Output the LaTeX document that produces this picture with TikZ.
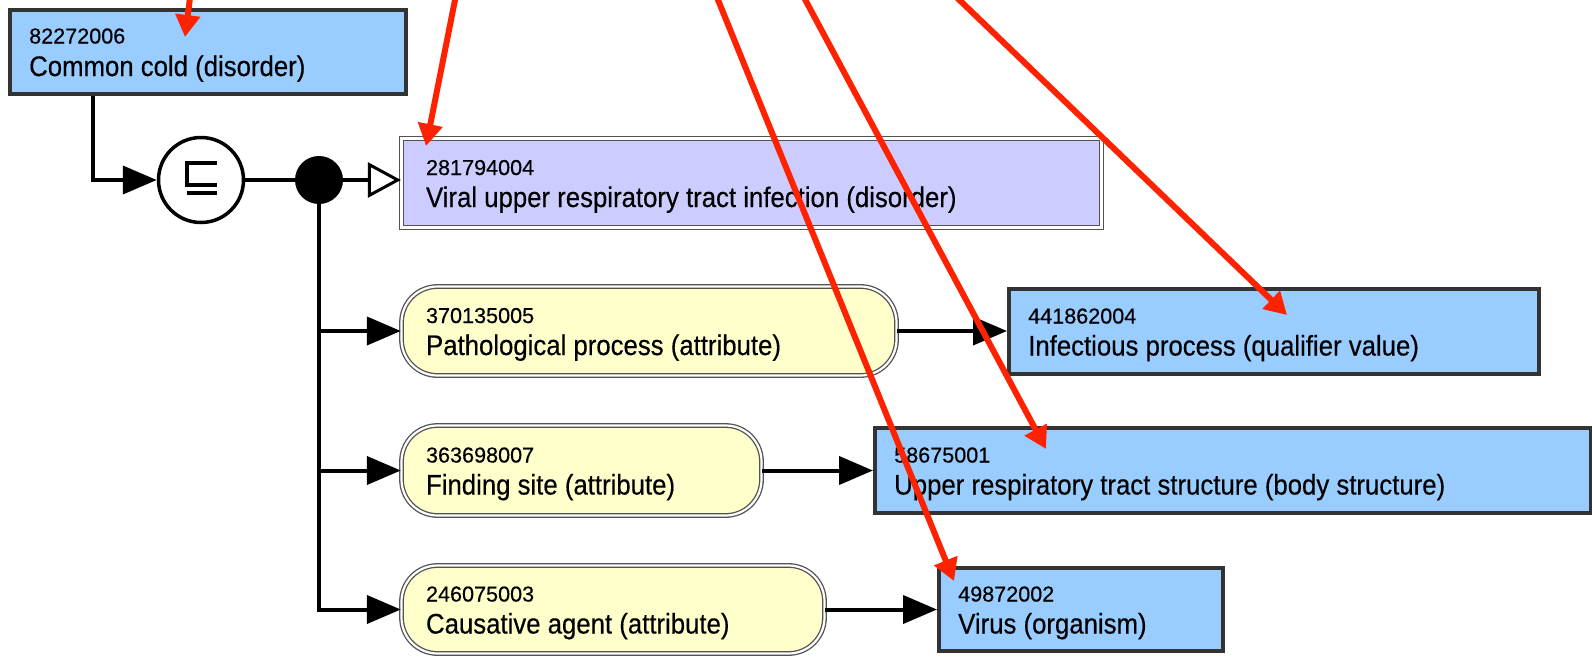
\documentclass[tikz,border=0pt]{standalone}
\usepackage{fontspec}
\setmainfont{Liberation Sans}[FakeBold=0.4]
\newfontfamily\namefont{Liberation Sans}[FakeStretch=0.91,FakeBold=0.4]
\usetikzlibrary{arrows.meta}
\definecolor{conceptblue}{HTML}{99CCFF}
\definecolor{defpurple}{HTML}{CCCCFF}
\definecolor{attryellow}{HTML}{FFFFCC}
\definecolor{edgegray}{HTML}{333333}
\definecolor{annored}{RGB}{255,34,0}
\tikzset{
 conceptbox/.style={rectangle, draw=edgegray, line width=4pt, fill=conceptblue, inner sep=0pt},
 defbox/.style={rectangle, draw=edgegray!85, line width=1.3pt, double=white, double distance=2.2pt, fill=defpurple, inner sep=0pt},
 attrbox/.style={rectangle, draw=edgegray!85, line width=1.3pt, double=white, double distance=2.2pt, fill=attryellow, rounded corners=36pt, inner sep=0pt},
 codetext/.style={anchor=base west, inner sep=0pt, font=\fontsize{21.6}{24}\selectfont},
 nametext/.style={anchor=base west, inner sep=0pt, font=\namefont\fontsize{28.3}{31}\selectfont},
 conn/.style={line width=4pt, draw=black},
 solidtip/.style={-{Triangle[length=34pt,width=28pt]}},
 opentip/.style={-{Triangle[length=33pt,width=35pt,fill=white,line width=3pt]}},
 annot/.style={draw=annored, line width=6pt, -{Triangle[length=22pt,width=24pt]}},
}
\begin{document}
\begin{tikzpicture}[x=1pt,y=-1pt]
\useasboundingbox (0,0) rectangle (1592,656);
\clip (0,0) rectangle (1592,656);
\fill[white] (0,0) rectangle (1592,656);

% boxes
\node[conceptbox, minimum width=396pt, minimum height=84pt] (cc) at (208,52) {};
\node[circle, draw=black, line width=3.5pt, fill=white, minimum size=85pt, inner sep=0pt] (sub) at (201,180) {};
\node[circle, fill=black, minimum size=48pt, inner sep=0pt] (dot) at (319,180) {};
\node[defbox, minimum width=700pt, minimum height=89pt] (vurti) at (751.5,183) {};
\node[attrbox, minimum width=495pt, minimum height=89pt] (pp) at (649,331) {};
\node[attrbox, minimum width=360pt, minimum height=90pt] (fs) at (581.5,470.5) {};
\node[attrbox, minimum width=423pt, minimum height=88pt] (ca) at (613,609.5) {};
\node[conceptbox, minimum width=530pt, minimum height=85pt] (inf) at (1274,331.5) {};
\node[conceptbox, minimum width=716pt, minimum height=85pt] (urt) at (1233,470.5) {};
\node[conceptbox, minimum width=284pt, minimum height=83pt] (virus) at (1081,609.5) {};

% texts
\node[codetext] (cc-c) at ([xshift=21pt,yshift=8.5pt]cc.west) {82272006};
\node[nametext] (cc-n) at ([xshift=21pt,yshift=-24pt]cc.west) {Common cold (disorder)};
\node[codetext] (vurti-c) at ([xshift=25pt,yshift=8pt]vurti.west) {281794004};
\node[nametext] (vurti-n) at ([xshift=25pt,yshift=-24pt]vurti.west) {Viral upper respiratory tract infection (disorder)};
\node[codetext] (pp-c) at ([xshift=25pt,yshift=8pt]pp.west) {370135005};
\node[nametext] (pp-n) at ([xshift=25pt,yshift=-24pt]pp.west) {Pathological process (attribute)};
\node[codetext] (fs-c) at ([xshift=25pt,yshift=8pt]fs.west) {363698007};
\node[nametext] (fs-n) at ([xshift=25pt,yshift=-24pt]fs.west) {Finding site (attribute)};
\node[codetext] (ca-c) at ([xshift=25pt,yshift=8pt]ca.west) {246075003};
\node[nametext] (ca-n) at ([xshift=25pt,yshift=-24pt]ca.west) {Causative agent (attribute)};
\node[codetext] (inf-c) at ([xshift=21pt,yshift=8pt]inf.west) {441862004};
\node[nametext] (inf-n) at ([xshift=21pt,yshift=-24pt]inf.west) {Infectious process (qualifier value)};
\node[codetext] (urt-c) at ([xshift=21pt,yshift=8pt]urt.west) {58675001};
\node[nametext] (urt-n) at ([xshift=21pt,yshift=-24pt]urt.west) {Upper respiratory tract structure (body structure)};
\node[codetext] (virus-c) at ([xshift=21pt,yshift=8pt]virus.west) {49872002};
\node[nametext] (virus-n) at ([xshift=21pt,yshift=-24pt]virus.west) {Virus (organism)};

% subsumption symbol
\draw[line width=3.5pt] ([shift={(16,-17)}]sub.center) -- ([shift={(-14,-17)}]sub.center) -- ([shift={(-14,5)}]sub.center) -- ([shift={(16,5)}]sub.center);
\draw[line width=3.5pt] ([shift={(-14,13)}]sub.center) -- ([shift={(16,13)}]sub.center);

% connectors
\draw[conn, solidtip] ([xshift=85pt]cc.south west) |- (sub.west);
\draw[conn] (sub.east) -- (dot.west);
\draw[conn, opentip] (dot.east) -- (dot.east -| vurti.west);
\draw[conn, solidtip] (dot.center) |- (ca.west);
\draw[conn, solidtip] (dot |- pp.west) -- (pp.west);
\draw[conn, solidtip] (dot |- fs.west) -- (fs.west);
\draw[conn, solidtip] (pp.east) -- (pp.east -| inf.west);
\draw[conn, solidtip] (fs.east) -- (fs.east -| urt.west);
\draw[conn, solidtip] (ca.east) -- (ca.east -| virus.west);

% red annotation arrows
\coordinate (a1s) at (191,-10); \coordinate (a1e) at (185,37);
\coordinate (a2s) at (457,-10); \coordinate (a2e) at (426,146);
\coordinate (a3s) at (714,-10); \coordinate (a3e) at (954,581);
\coordinate (a4s) at (800,-10); \coordinate (a4e) at (1046,449);
\coordinate (a5s) at (949,-10); \coordinate (a5e) at (1287,315);
\draw[annot] (a1s) -- (a1e);
\draw[annot] (a2s) -- (a2e);
\draw[annot] (a3s) -- (a3e);
\draw[annot] (a4s) -- (a4e);
\draw[annot] (a5s) -- (a5e);
\end{tikzpicture}
\end{document}
